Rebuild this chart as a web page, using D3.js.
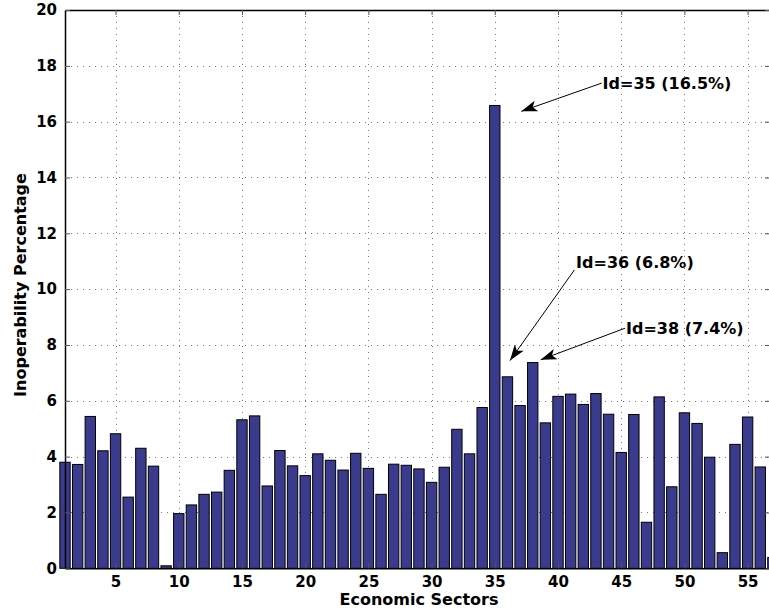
<!DOCTYPE html>
<html>
<head>
<meta charset="utf-8">
<script src="https://cdn.jsdelivr.net/npm/d3@7"></script>
<style>
  body { margin: 0; background: #fff; }
  svg { display: block; font-family: "DejaVu Sans", sans-serif; font-weight: bold; }
</style>
</head>
<body>
<div id="chart"></div>
<script>
// sector ids 1..57 and inoperability (%)
const sectors = d3.range(1, 58);
const inoperability = [
  3.80, 3.72, 5.44, 4.21, 4.82, 2.55, 4.30, 3.66, 0.09, 1.96,
  2.27, 2.65, 2.73, 3.51, 5.32, 5.46, 2.95, 4.22, 3.67, 3.32,
  4.10, 3.87, 3.52, 4.12, 3.58, 2.65, 3.73, 3.69, 3.56, 3.08,
  3.62, 4.98, 4.10, 5.76, 16.58, 6.86, 5.83, 7.37, 5.21, 6.16,
  6.24, 5.87, 6.26, 5.52, 4.15, 5.51, 1.65, 6.14, 2.92, 5.57,
  5.19, 3.98, 0.56, 4.44, 5.42, 3.63, 0.39
];
const xTicks = [5, 10, 15, 20, 25, 30, 35, 40, 45, 50, 55];
const yTicks = [0, 2, 4, 6, 8, 10, 12, 14, 16, 18, 20];
const noteLabels = ["Id=35 (16.5%)", "Id=36 (6.8%)", "Id=38 (7.4%)"];

// where the callouts sit, in data units
const notes = [
  {text: [43.45, 17.38], from: [43.45, 17.38], tip: [37.1, 16.37]},
  {text: [41.35, 10.98], from: [41.3, 10.69], tip: [36.2, 7.44]},
  {text: [45.3, 8.6], from: [45.3, 8.6], tip: [38.63, 7.47]}
];

const W = 769, H = 614;
const m = {left: 65, right: 770, top: 10, bottom: 568.3};

const svg = d3.select("#chart").append("svg")
  .attr("width", W).attr("height", H);

const x = d3.scaleLinear().domain([1, 56.77]).range([m.left, m.right]);
const y = d3.scaleLinear().domain([0, 20]).range([m.bottom, m.top]);

// dotted grid
const grid = svg.append("g")
  .attr("stroke", "#777").attr("stroke-width", 1).attr("stroke-dasharray", "1,5");
grid.selectAll(".gx").data(xTicks).enter().append("line")
  .attr("x1", d => Math.round(x(d)) + 0.5).attr("x2", d => Math.round(x(d)) + 0.5)
  .attr("y1", m.top).attr("y2", m.bottom);
grid.selectAll(".gy").data(yTicks.slice(1, -1)).enter().append("line")
  .attr("y1", d => Math.round(y(d)) + 0.5).attr("y2", d => Math.round(y(d)) + 0.5)
  .attr("x1", m.left).attr("x2", m.right);

// bars (not clipped, like the original)
const bw = x(1.82) - x(1);
svg.append("g").selectAll("rect")
  .data(sectors).enter().append("rect")
  .attr("x", d => x(d) - bw / 2)
  .attr("width", bw)
  .attr("y", (d, i) => y(inoperability[i]))
  .attr("height", (d, i) => y(0) - y(inoperability[i]))
  .attr("fill", "#3b3b8e")
  .attr("stroke", "#000")
  .attr("stroke-width", 1);

// axes: ticks inward on all four sides
const tl = 5;
const xb = svg.append("g").attr("transform", `translate(0,${m.bottom})`)
  .call(d3.axisBottom(x).tickValues(xTicks).tickSizeInner(-tl).tickSizeOuter(0).tickPadding(8));
const xt = svg.append("g").attr("transform", `translate(0,${m.top})`)
  .call(d3.axisTop(x).tickValues(xTicks).tickSizeInner(-tl).tickSizeOuter(0).tickFormat(""));
const yl = svg.append("g").attr("transform", `translate(${m.left},0)`)
  .call(d3.axisLeft(y).tickValues(yTicks).tickSizeInner(-tl).tickSizeOuter(0).tickPadding(8));
const yr = svg.append("g").attr("transform", `translate(${m.right},0)`)
  .call(d3.axisRight(y).tickValues(yTicks).tickSizeInner(-tl).tickSizeOuter(0).tickFormat(""));

[xb, xt, yl, yr].forEach(g => {
  g.select(".domain").attr("stroke", "#000").attr("stroke-width", 1.5);
  g.selectAll(".tick line").attr("stroke", "#555");
  g.selectAll("text")
    .attr("fill", "#000")
    .style("font-family", "DejaVu Sans")
    .style("font-weight", "bold")
    .style("font-size", "15px");
});

// axis labels
svg.append("text")
  .attr("x", 419).attr("y", 605)
  .attr("text-anchor", "middle")
  .style("font-size", "16px")
  .text("Economic Sectors");

svg.append("text")
  .attr("transform", "translate(26,285) rotate(-90)")
  .attr("text-anchor", "middle")
  .style("font-size", "16px")
  .text("Inoperability Percentage");

// callouts with arrows
function arrowHead(x0, y0, x1, y1) {
  const a = Math.atan2(y1 - y0, x1 - x0);
  const L = 16, w = 5.5, n = 12;
  const px = (d, s) => [x1 - d * Math.cos(a) - s * Math.sin(a), y1 - d * Math.sin(a) + s * Math.cos(a)];
  return [[x1, y1], px(L, w), px(n, 0), px(L, -w)];
}

const ann = svg.append("g");
notes.forEach((n, i) => {
  const fx = x(n.from[0]), fy = y(n.from[1]);
  const hx = x(n.tip[0]), hy = y(n.tip[1]);
  ann.append("line")
    .attr("x1", fx).attr("y1", fy).attr("x2", hx).attr("y2", hy)
    .attr("stroke", "#000").attr("stroke-width", 1);
  ann.append("polygon")
    .attr("points", arrowHead(fx, fy, hx, hy).map(p => p.join(",")).join(" "))
    .attr("fill", "#000");
  ann.append("text")
    .attr("x", x(n.text[0]) + 1).attr("y", y(n.text[1]) + 6)
    .style("font-size", "16px")
    .text(noteLabels[i]);
});
</script>
</body>
</html>
